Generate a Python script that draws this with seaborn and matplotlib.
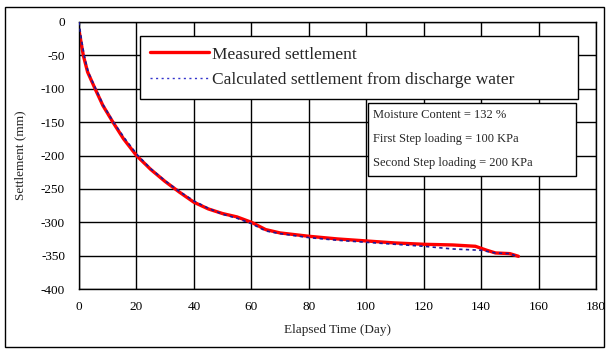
import matplotlib
matplotlib.use("Agg")
import matplotlib.pyplot as plt
import seaborn as sns
import pandas as pd
from matplotlib.patches import Rectangle
from matplotlib.lines import Line2D

# ---- data ----
meas_t = [0, 0.5, 1.5, 3, 5.6, 8.3, 11.8, 15.5, 20, 25, 30, 35, 40, 45, 50, 55, 60,
          65, 70, 80, 90, 100, 110, 120, 130, 138, 140, 142, 145, 150, 153]
meas_s = [-12, -25, -50, -75, -100, -125, -150, -175, -200, -221, -239, -255, -270, -280,
          -287, -292, -300, -311, -316, -321, -325, -328, -331, -333, -334, -336, -339,
          -342, -346, -347, -351]
calc_t = [0, 0.3, 1, 1.8, 3.2, 5.8, 8.5, 12, 16, 20.5, 25, 30, 35, 40, 45, 50, 55, 60,
          65, 70, 80, 90, 100, 110, 120, 130, 140, 145, 150, 153]
calc_s = [0, -10, -30, -50, -75, -100, -125, -150, -175, -200, -220, -238, -254, -268,
          -279, -288, -294, -302, -313, -317, -323, -327, -330, -333, -336, -340, -342,
          -346, -347, -352]
x_ticks = [0, 20, 40, 60, 80, 100, 120, 140, 160, 180]
y_ticks = [0, -50, -100, -150, -200, -250, -300, -350, -400]
series_labels = ["Measured settlement", "Calculated settlement from discharge water"]
info_lines = ["Moisture Content = 132 %", "First Step loading = 100 KPa",
              "Second Step loading = 200 KPa"]

sns.set_style("white")
plt.rcParams["font.family"] = ["Liberation Serif", "DejaVu Serif"]
plt.rcParams["axes.unicode_minus"] = False

fig = plt.figure(figsize=(6.08, 3.49), dpi=100)
W, H = 608, 349
L, R, T, B = 79, 596, 22, 289
ax = fig.add_axes([L / W, 1 - B / H, (R - L) / W, (B - T) / H])

df_m = pd.DataFrame({"t": meas_t, "s": meas_s})
df_c = pd.DataFrame({"t": calc_t, "s": calc_s})
sns.lineplot(data=df_c, x="t", y="s", ax=ax, color="#1a1a9a", lw=1.2,
             linestyle=(0, (2, 2)), zorder=3, sort=False)
sns.lineplot(data=df_m, x="t", y="s", ax=ax, color="#ff0000", lw=2.4, zorder=2, sort=False)

ax.set_xlim(0, 180)
ax.set_ylim(-400, 0)
ax.set_xticks(x_ticks)
ax.set_yticks(y_ticks)
ax.set_xticklabels([str(v) for v in x_ticks])
ax.set_yticklabels([str(v) for v in y_ticks])
ax.tick_params(axis="both", length=0, labelsize=9.5, colors="black")
ax.tick_params(axis="x", pad=9)
ax.tick_params(axis="y", pad=10)
ax.grid(True, color="black", lw=1.0)
for sp in ax.spines.values():
    sp.set_color("black")
    sp.set_linewidth(1.0)
ax.set_xlabel("Elapsed Time (Day)", fontsize=9.5)
ax.set_ylabel("Settlement (mm)", fontsize=9.5)
ax.xaxis.set_label_coords(0.5, (B - 324) / (B - T))
ax.yaxis.set_label_coords((26 - L) / (R - L), 0.5)

handles = [Line2D([], [], color="#ff0000", lw=2.4),
           Line2D([], [], color="#3333cc", lw=1.0, linestyle=(0, (1.5, 2.5)))]
lx0, lx1, ly0, ly1 = 140, 578, 36, 97
leg = ax.legend(handles, series_labels,
                bbox_to_anchor=((lx0 - L) / (R - L), (B - ly1) / (B - T),
                                (lx1 - lx0) / (R - L), (ly1 - ly0) / (B - T)),
                loc="upper left", mode="expand", borderaxespad=0, fontsize=12.5,
                frameon=True, fancybox=False, framealpha=1, edgecolor="black",
                handlelength=3.4, handletextpad=0.15, labelspacing=0.55,
                borderpad=0.6)
leg.get_frame().set_linewidth(1.0)
leg.set_zorder(5)

# info box
bx0, bx1, by0, by1 = 368, 576, 103, 176
rect = Rectangle(((bx0 - L) / (R - L), (B - by1) / (B - T)),
                 (bx1 - bx0) / (R - L), (by1 - by0) / (B - T),
                 transform=ax.transAxes, facecolor="white", edgecolor="black",
                 lw=1.0, zorder=5)
ax.add_patch(rect)
for i, txt in enumerate(info_lines):
    yy = [115, 139, 163][i]
    ax.text((373 - L) / (R - L), (B - yy) / (B - T), txt, transform=ax.transAxes,
            fontsize=9, va="center", ha="left", zorder=6)

# outer frame
fig.patches.append(Rectangle((5 / W, 1 - 347 / H), 599 / W, 340 / H,
                             transform=fig.transFigure, fill=False,
                             edgecolor="black", lw=1.0))

fig.savefig("out.png", dpi=100)
